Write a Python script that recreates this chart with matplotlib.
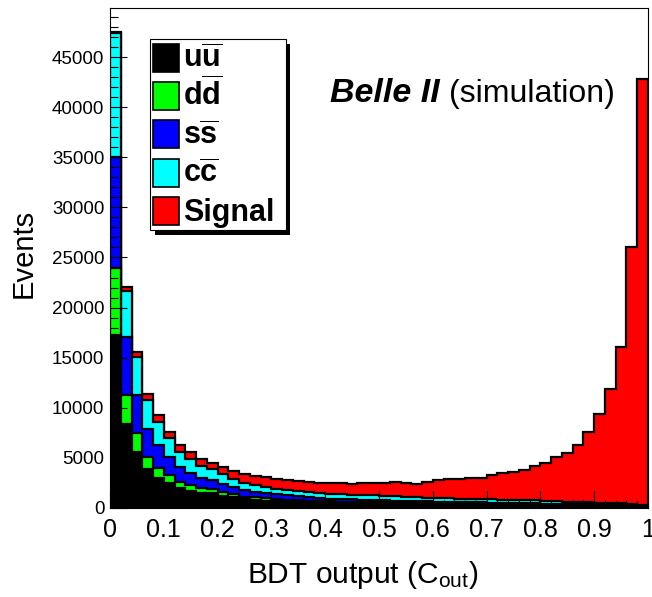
import numpy as np
import matplotlib.pyplot as plt
from matplotlib.patches import Rectangle
from matplotlib.ticker import MultipleLocator

plt.rcParams['font.family'] = ['Liberation Sans', 'DejaVu Sans']
plt.rcParams['mathtext.fontset'] = 'custom'
plt.rcParams['mathtext.rm'] = 'Liberation Sans'
plt.rcParams['mathtext.bf'] = 'Liberation Sans:bold'
plt.rcParams['mathtext.it'] = 'Liberation Sans:italic'

# 50 bins of BDT output between 0 and 1
n_bins = 50
x_range = (0.0, 1.0)

# stacked components, bottom to top
uu = [17300, 8400, 5570, 3870, 2970, 2470, 1970, 1730, 1530, 1470,
      1200, 1070, 870, 800, 730, 700, 630, 600, 570, 550,
      520, 500, 480, 460, 450, 440, 420, 410, 400, 390,
      380, 370, 360, 350, 340, 330, 320, 310, 300, 290,
      280, 270, 260, 250, 240, 230, 220, 200, 180, 140]
dd = [6700, 2830, 1960, 1260, 1000, 830, 660, 570, 440, 420,
      400, 330, 260, 270, 240, 200, 170, 170, 170, 150,
      140, 130, 125, 120, 115, 110, 105, 100, 95, 90,
      85, 80, 78, 75, 72, 70, 68, 66, 64, 62,
      60, 58, 56, 54, 52, 50, 48, 45, 42, 35]
ss = [11000, 5840, 3770, 2770, 2330, 1830, 1500, 1230, 1000, 930,
      800, 670, 670, 560, 500, 470, 470, 430, 390, 330,
      270, 260, 250, 240, 230, 220, 210, 200, 190, 180,
      175, 170, 160, 150, 140, 130, 125, 120, 115, 110,
      105, 100, 95, 90, 85, 80, 75, 70, 60, 40]
cc = [12400, 4560, 3770, 2900, 2330, 1840, 1500, 1340, 1230, 1070,
      1000, 830, 730, 670, 600, 560, 530, 500, 470, 500,
      500, 500, 490, 480, 470, 460, 440, 420, 400, 380,
      370, 360, 350, 340, 330, 320, 310, 300, 300, 290,
      280, 270, 200, 190, 180, 170, 160, 140, 110, 60]
signal = [100, 440, 500, 600, 670, 660, 670, 760, 670, 580,
          670, 830, 870, 900, 1060, 940, 950, 950, 980, 970,
          1040, 1060, 1100, 1200, 1240, 1270, 1400, 1340, 1360, 1580,
          1770, 1900, 1950, 2030, 2120, 2400, 2630, 2800, 3000, 3450,
          3800, 4370, 4890, 5670, 7040, 8820, 11350, 15600, 25700, 42580]

labels = [r'$\mathbf{u}\overline{\mathbf{u}}$', r'$\mathbf{d}\overline{\mathbf{d}}$',
          r'$\mathbf{s}\overline{\mathbf{s}}$', r'$\mathbf{c}\overline{\mathbf{c}}$', 'Signal']
colors = ['#000000', '#00ff00', '#0000ff', '#00ffff', '#ff0000']
x_tick_labels = ['0', '0.1', '0.2', '0.3', '0.4', '0.5', '0.6', '0.7', '0.8', '0.9', '1']

W, H = 652, 597
fig = plt.figure(figsize=(W / 100, H / 100), dpi=100)
ax = fig.add_axes([110 / W, 1 - 508 / H, 538 / W, 500 / H])

edges = np.linspace(x_range[0], x_range[1], n_bins + 1)
stack = np.cumsum([uu, dd, ss, cc, signal], axis=0)
for top, c in reversed(list(zip(stack, colors))):
    ax.stairs(top, edges, fill=True, facecolor=c, edgecolor='black', linewidth=1.6)

ax.set_xlim(*x_range)
ax.set_ylim(0, 49900)
ax.set_xticks(np.linspace(0, 1, 11), x_tick_labels)
ax.xaxis.set_minor_locator(MultipleLocator(0.02))
ax.yaxis.set_major_locator(MultipleLocator(5000))
ax.yaxis.set_minor_locator(MultipleLocator(1000))
ax.tick_params(which='both', direction='in', top=False, right=False, width=0.8)
ax.tick_params(which='major', length=12)
ax.tick_params(which='minor', length=6)
ax.tick_params(axis='x', labelsize=18, pad=7)
ax.tick_params(axis='y', labelsize=13.5, pad=4)
for s in ax.spines.values():
    s.set_linewidth(0.8)

# overlay in pixel coordinates for legend and labels
ov = fig.add_axes([0, 0, 1, 1], zorder=5)
ov.set_xlim(0, W)
ov.set_ylim(H, 0)
ov.axis('off')

ov.text(363, 583, r'BDT output (C$_{\mathrm{out}}$)', fontsize=21.5, ha='center', va='baseline')
ov.text(24, 253, 'Events', fontsize=21, rotation=90, ha='center', va='center')

ov.text(330, 102, 'Belle II', fontsize=24.5, fontweight='bold', style='italic', va='baseline')
ov.text(449, 102, '(simulation)', fontsize=23, va='baseline')

# legend box with shadow
ov.add_patch(Rectangle((155, 44), 135, 191, facecolor='black', edgecolor='none'))
ov.add_patch(Rectangle((149.5, 38.5), 136, 191.5, facecolor='white', edgecolor='black', linewidth=0.8))
for i, (lab, c) in enumerate(zip(labels, colors)):
    yc = 57.5 + i * 38.4
    ov.add_patch(Rectangle((153, yc - 14), 26, 28, facecolor=c, edgecolor='black', linewidth=1.2))
    ov.text(183, yc + 10, lab, fontsize=22, fontweight='bold', va='baseline')

fig.savefig('out.png', dpi=100)
